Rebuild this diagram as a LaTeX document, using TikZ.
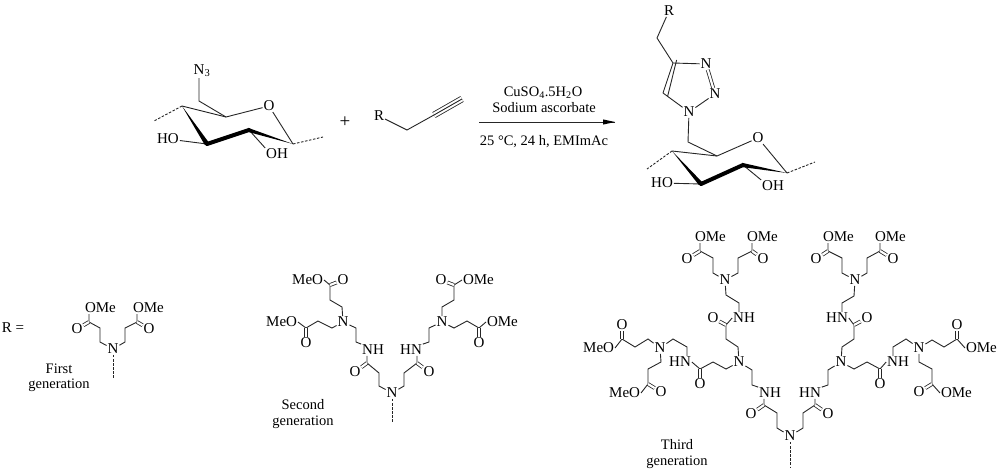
\documentclass[tikz,border=0pt]{standalone}
\usepackage{fontspec}
\setmainfont{Liberation Serif}
\tikzset{
  atom/.style={inner sep=0.8pt, font=\fontsize{15}{16}\selectfont},
  note/.style={inner sep=0.8pt, font=\fontsize{14.5}{16}\selectfont},
  caption/.style={inner sep=0pt, align=center, font=\fontsize{14.5}{15.5}\selectfont},
  bond/.style={line width=0.9pt, black!85},
  dbl/.style={bond, double, double distance=2.2pt, line width=0.8pt},
  hash/.style={line width=0.9pt, black!85, dash pattern=on 2.5pt off 1.6pt},
  thick bond/.style={line width=4pt, line cap=round, black},
  wedge/.style={fill=black}
}
\begin{document}
\begin{tikzpicture}[x=1pt, y=-1pt]
\useasboundingbox (0,0) rectangle (1000,474);

% carbons
\foreach \nm/\x/\y in {
  sa/199/101, sb/226/117, sc/293/144, sd/249/130, se/207/144, sf/182/106, sg/154/121, sh/323/137,
  ra/407/130, rb/434/115, rc/462/99,
  ta/657/38, tb/673/63, tc/663/93, td/688/142, te/717/156, tf/787/173, tg/743/165, th/701/184, ti/672/151, tj/647/169, tk/815/162,
  fa/89/322, fb/100/328, fc/100/342, fd/125/342, fe/125/328, ff/137/322, fg/113/379,
  ga/379/386, gb/379/373, gc/367/363, gd/356/342, ge/356/328, gf/342/307, gg/330/300, gh/330/285,
  gi/332/328, gj/318/321, gk/306/328,
  gl/404/386, gm/404/373, gn/417/363, go/429/342, gp/429/328, gq/442/307, gr/454/300, gs/454/285,
  gt/454/328, gu/467/321, gv/479/328, gw/392/423,
  ha/777/428, hb/777/413, hc/764/405, hd/752/385, he/752/370, hf/738/347, hg/726/339, hh/726/325,
  hi/739/303, hj/726/295, hk/713/273, hl/713/258, hm/700/251, hn/738/273, ho/738/258, hp/752/251,
  hq/726/369, hr/713/362, hs/700/369, ht/687/347, hu/673/339, hv/648/339, hw/635/347, hx/622/339,
  hy/661/362, hz/648/369, ia/648/384,
  ja/803/428, jb/803/413, jc/815/405, jd/828/385, je/828/370, jf/842/347, jg/854/339, jh/854/325,
  ji/842/303, jj/854/296, jk/842/273, jl/842/258, jm/828/251, jn/867/273, jo/867/258, jp/880/251,
  jq/854/369, jr/867/362, js/880/369, jt/893/347, ju/906/339, jv/932/340, jw/944/347, jx/957/339,
  jq2/919/362, jy/932/369, jz/932/384, kz/790/467}
  \coordinate (\nm) at (\x,\y);

% first sugar
\node[atom] (sn) at (202,71) {N\textsubscript{3}};
\node[atom] (so) at (269,106) {O};
\node[atom] (sho) at (168,139) {HO};
\node[atom] (soh) at (277,154) {OH};
\draw[bond] (sn.south west -| sa) -- (sa) -- (sb) -- (so) -- (sc);
\draw[bond] (sf) -- (sb);
\draw[bond] (sho) -- (se);
\draw[bond] (sd) -- (soh.north west);
\fill[wedge] (sf) -- ([xshift=2.6pt,yshift=0.4pt]se) -- ([xshift=-2.2pt,yshift=-0.9pt]se) -- cycle;
\draw[thick bond] (se) -- (sd);
\fill[wedge] ([yshift=-2.2pt]sd) -- (sc) -- ([xshift=-1pt,yshift=2.2pt]sd) -- cycle;
\draw[hash] (sf) -- (sg);
\draw[hash] (sc) -- (sh);
\node[atom, font=\fontsize{19}{20}\selectfont] (plus) at (345,122) {+};

% alkyne
\node[atom] (rr) at (379,116) {R};
\draw[bond] (rr) -- (ra) -- (rb);
\draw[bond, double, double distance=5pt, line width=0.8pt] (rb) -- (rc);
\draw[bond] (rb) -- (rc);

% conditions
\node[note] (cua) at (543,93) {CuSO\textsubscript{4}.5H\textsubscript{2}O};
\node[note] (cub) at (544,108) {Sodium ascorbate};
\node[note] (cuc) at (544,142) {25 °C, 24 h, EMImAc};
\coordinate (arra) at (479,122);
\coordinate (arrb) at (615,122);
\draw[bond] (arra) -- (arrb);
\fill[wedge] (arrb) -- ++(-12,-2.6) -- ++(0,5.2) -- cycle;

% triazole and second sugar
\node[atom] (tr) at (669,11) {R};
\node[atom] (tna) at (706,64) {N};
\node[atom] (tnb) at (715,94) {N};
\node[atom] (tnc) at (689,112) {N};
\node[atom] (to) at (758,138) {O};
\node[atom] (tho) at (662,183) {HO};
\node[atom] (toh) at (773,186) {OH};
\draw[bond] (tr) -- (ta) -- (tb) -- (tna);
\draw[dbl] (tna) -- (tnb);
\draw[bond] (tnb) -- (tnc) -- (tc);
\draw[bond] (tb) -- (tc);
\draw[bond] ([xshift=3.6pt,yshift=3pt]tb) -- ([xshift=4.6pt,yshift=-3.4pt]tc);
\draw[bond] (tnc) -- (td) -- (te) -- (to) -- (tf);
\draw[bond] (ti) -- (te);
\draw[bond] (tho) -- (th);
\draw[bond] (tg) -- (toh.north west);
\fill[wedge] (ti) -- ([xshift=2.6pt,yshift=0.4pt]th) -- ([xshift=-2.2pt,yshift=-0.9pt]th) -- cycle;
\draw[thick bond] (th) -- (tg);
\fill[wedge] ([yshift=-2.2pt]tg) -- (tf) -- ([xshift=-1pt,yshift=2.2pt]tg) -- cycle;
\draw[hash] (ti) -- (tj);
\draw[hash] (tf) -- (tk);

% first generation
\node[atom] (req) at (13,328) {R =};
\node[atom] (fn) at (113,349) {N};
\node[atom,anchor=west] (foa) at (84,308) {OMe};
\node[atom,anchor=west] (fob) at (132,308) {OMe};
\node[atom] (fca) at (77,329) {O};
\node[atom] (fcb) at (149,329) {O};
\draw[bond] (foa.south -| fa) -- (fa) -- (fb) -- (fc) -- (fn) -- (fd) -- (fe) -- (ff) -- (fob.south -| ff);
\draw[dbl] (fa) -- (fca);
\draw[dbl] (ff) -- (fcb);
\draw[hash] (fn) -- (fg);
\node[caption] (fcap) at (59,378) {First\\generation};

% second generation
\node[atom] (gn0) at (392,393) {N};
\node[atom] (gna) at (343,322) {N};
\node[atom] (gnb) at (442,322) {N};
\node[atom] (gha) at (373,350) {NH};
\node[atom] (ghb) at (411,350) {HN};
\node[atom] (gca) at (355,372) {O};
\node[atom] (gcb) at (429,372) {O};
\node[atom] (gda) at (343,280) {O};
\node[atom] (gdb) at (441,280) {O};
\node[atom] (gdc) at (306,343) {O};
\node[atom] (gdd) at (479,343) {O};
\node[atom,anchor=east] (goa) at (324,280) {MeO};
\node[atom,anchor=east] (gob) at (298,322) {MeO};
\node[atom,anchor=west] (goc) at (462,280) {OMe};
\node[atom,anchor=west] (god) at (486,322) {OMe};
\draw[bond] (gn0) -- (ga) -- (gb) -- (gc) -- (gc |- gha.south);
\draw[bond] (gha.north west) -- (gd) -- (ge) -- (gna) -- (gf) -- (gg) -- (gh) -- (goa.east);
\draw[bond] (gna) -- (gi) -- (gj) -- (gk) -- (gob.east);
\draw[dbl] (gc) -- (gca);
\draw[dbl] (gh) -- (gda);
\draw[dbl] (gk) -- (gdc);
\draw[bond] (gn0) -- (gl) -- (gm) -- (gn) -- (gn |- ghb.south);
\draw[bond] (ghb.north east) -- (go) -- (gp) -- (gnb) -- (gq) -- (gr) -- (gs) -- (goc.west);
\draw[bond] (gnb) -- (gt) -- (gu) -- (gv) -- (god.west);
\draw[dbl] (gn) -- (gcb);
\draw[dbl] (gs) -- (gdb);
\draw[dbl] (gv) -- (gdd);
\draw[hash] (gn0) -- (gw);
\node[caption] (gcap) at (303,414) {Second\\generation};

% third generation, core
\node[atom] (hn0) at (790,436) {N};
\node[atom] (hna) at (739,362) {N};
\node[atom] (hnb) at (841,362) {N};
\node[atom] (hha) at (770,393) {NH};
\node[atom] (hhb) at (810,393) {HN};
\node[atom] (hca) at (751,414) {O};
\node[atom] (hcb) at (828,414) {O};
\draw[bond] (hn0) -- (ha) -- (hb) -- (hc) -- (hc |- hha.south);
\draw[bond] (hha.north west) -- (hd) -- (he) -- (hna);
\draw[bond] (hn0) -- (ja) -- (jb) -- (jc) -- (jc |- hhb.south);
\draw[bond] (hhb.north east) -- (jd) -- (je) -- (hnb);
\draw[dbl] (hc) -- (hca);
\draw[dbl] (jc) -- (hcb);
\draw[hash] (hn0) -- (kz);

% third generation, upper left
\node[atom] (hnc) at (725,280) {N};
\node[atom] (hhc) at (744,318) {NH};
\node[atom] (hcc) at (713,318) {O};
\node[atom] (hda) at (687,259) {O};
\node[atom] (hdb) at (763,259) {O};
\node[atom,anchor=west] (hoa) at (694,237) {OMe};
\node[atom,anchor=west] (hob) at (746,237) {OMe};
\draw[bond] (hna) -- (hf) -- (hg) -- (hh) -- (hhc.west);
\draw[bond] (hi |- hhc.north) -- (hi) -- (hj) -- (hnc) -- (hk) -- (hl) -- (hm) -- (hoa.south -| hm);
\draw[bond] (hnc) -- (hn) -- (ho) -- (hp) -- (hob.south -| hp);
\draw[dbl] (hh) -- (hcc);
\draw[dbl] (hm) -- (hda);
\draw[dbl] (hp) -- (hdb);

% third generation, left
\node[atom] (hnd) at (660,348) {N};
\node[atom] (hhd) at (680,362) {HN};
\node[atom] (hcd) at (700,384) {O};
\node[atom] (hdc) at (622,325) {O};
\node[atom] (hdd) at (661,392) {O};
\node[atom,anchor=east] (hoc) at (615,348) {MeO};
\node[atom,anchor=east] (hod) at (641,393) {MeO};
\draw[bond] (hna) -- (hq) -- (hr) -- (hs) -- (hhd.east);
\draw[bond] (ht |- hhd.north) -- (ht) -- (hu) -- (hnd) -- (hv) -- (hw) -- (hx) -- (hoc.east);
\draw[bond] (hnd) -- (hy) -- (hz) -- (ia) -- (hod.east);
\draw[dbl] (hs) -- (hcd);
\draw[dbl] (hx) -- (hdc);
\draw[dbl] (ia) -- (hdd);

% third generation, upper right
\node[atom] (jnc) at (855,280) {N};
\node[atom] (jhc) at (837,318) {HN};
\node[atom] (jcc) at (867,318) {O};
\node[atom] (jda) at (816,259) {O};
\node[atom] (jdb) at (893,259) {O};
\node[atom,anchor=west] (joa) at (822,237) {OMe};
\node[atom,anchor=west] (job) at (874,237) {OMe};
\draw[bond] (hnb) -- (jf) -- (jg) -- (jh) -- (jhc.east);
\draw[bond] (ji |- jhc.north) -- (ji) -- (jj) -- (jnc) -- (jk) -- (jl) -- (jm) -- (joa.south -| jm);
\draw[bond] (jnc) -- (jn) -- (jo) -- (jp) -- (job.south -| jp);
\draw[dbl] (jh) -- (jcc);
\draw[dbl] (jm) -- (jda);
\draw[dbl] (jp) -- (jdb);

% third generation, right
\node[atom] (jnd) at (919,348) {N};
\node[atom] (jhd) at (898,362) {NH};
\node[atom] (jcd) at (880,384) {O};
\node[atom] (jdc) at (957,325) {O};
\node[atom] (jdd) at (919,392) {O};
\node[atom,anchor=west] (joc) at (965,348) {OMe};
\node[atom,anchor=west] (jod) at (940,393) {OMe};
\draw[bond] (hnb) -- (jq) -- (jr) -- (js) -- (jhd.west);
\draw[bond] (jt |- jhd.north) -- (jt) -- (ju) -- (jnd) -- (jv) -- (jw) -- (jx) -- (joc.west);
\draw[bond] (jnd) -- (jq2) -- (jy) -- (jz) -- (jod.west);
\draw[dbl] (js) -- (jcd);
\draw[dbl] (jx) -- (jdc);
\draw[dbl] (jz) -- (jdd);
\node[caption] (hcap) at (677,454) {Third\\generation};
\end{tikzpicture}
\end{document}
